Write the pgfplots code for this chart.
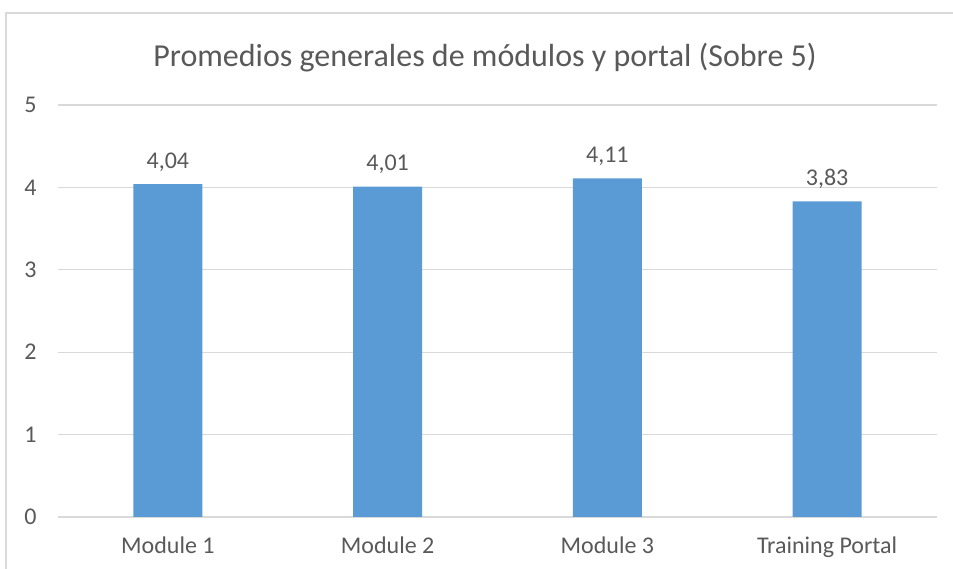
\documentclass[border=0pt]{standalone}
\usepackage{fontspec}
\setmainfont{Carlito}
\usepackage{pgfplots}
\pgfplotsset{compat=1.18}
\definecolor{bar}{HTML}{5B9BD5}
\definecolor{txt}{HTML}{595959}
\definecolor{grd}{HTML}{D9D9D9}
\begin{document}
\begin{tikzpicture}[x=1pt,y=1pt]
\path[use as bounding box] (0,0) rectangle (953,569);
\draw[grd, line width=1.2pt] (6,0) -- (6,556) -- (953,556);
\node[txt, font=\fontsize{32}{38}\selectfont, anchor=base] at (485,502) {Promedios generales de módulos y portal (Sobre 5)};
\begin{axis}[
  at={(58pt,52pt)}, anchor=south west,
  scale only axis, width=879pt, height=412pt,
  xmin=-0.5, xmax=3.5, ymin=0, ymax=5,
  xtick={0,1,2,3},
  xticklabels={Module 1, Module 2, Module 3, Training Portal},
  ytick={0,1,2,3,4,5},
  ymajorgrids, grid style={grd, line width=1.2pt},
  axis line style={draw=none},
  major tick length=0pt,
  /pgf/number format/assume math mode=true,
  /pgf/number format/use comma,
  ticklabel style={txt, font=\fontsize{24}{28}\selectfont},
  xticklabel style={yshift=-16pt},
  yticklabel style={xshift=-18pt},
  nodes near coords={\pgfmathprintnumber[fixed,precision=2,fixed zerofill,use comma,assume math mode=true]{\pgfplotspointmeta}},
  nodes near coords style={txt, font=\fontsize{24}{28}\selectfont, anchor=south, yshift=9pt},
  clip=false,
]
\addplot[ybar, bar width=69pt, fill=bar, draw=none] coordinates {(0,4.04) (1,4.01) (2,4.11) (3,3.83)};
\end{axis}
\end{tikzpicture}
\end{document}
